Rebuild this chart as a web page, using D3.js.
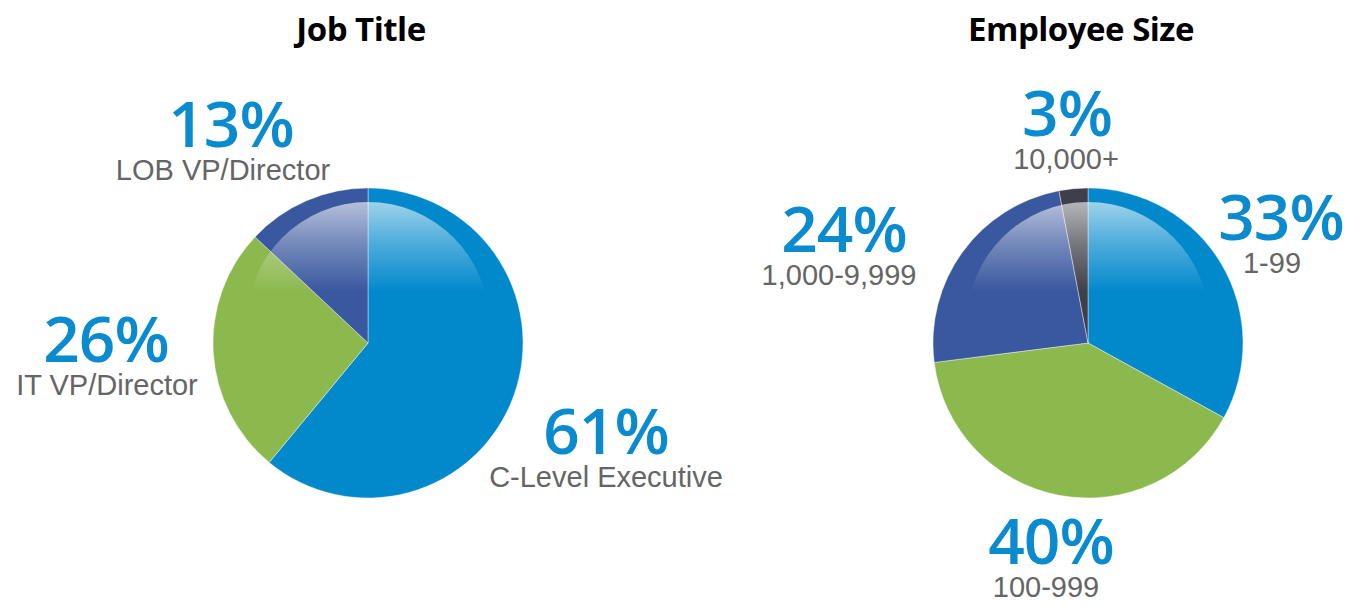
<!DOCTYPE html>
<html>
<head>
<meta charset="utf-8">
<script src="https://cdn.jsdelivr.net/npm/d3@7"></script>
<style>
  body { margin: 0; background: #fff; }
  svg { display: block; }
</style>
</head>
<body>
<svg id="chart"></svg>
<script>
// job title split
const jobTitles = ['C-Level Executive', 'IT VP/Director', 'LOB VP/Director'];
const jobValues = [61, 26, 13];

// employee size split
const sizeLabels = ['1-99', '100-999', '1,000-9,999', '10,000+'];
const sizeValues = [33, 40, 24, 3];

const jobColors = ['#0289cc', '#8cb94e', '#3a589f'];
const sizeColors = ['#0289cc', '#8cb94e', '#3a589f', '#3e3f49'];

// where each label sits, relative to its pie centre: pct centre x, baseline y, caption x nudge
const jobLabelPos = [[238, 111, 0], [-262, 19, 1], [-137, -196, -8]];
const sizeLabelPos = [[193, -103, -9], [-37, 221, -5], [-244, -91, -5], [-21, -207, -1]];

const W = 1351, H = 607;
const R = 155;

const svg = d3.select('#chart')
              .attr('width', W)
              .attr('height', H);

const defs = svg.append('defs');
const gloss = defs.append('linearGradient')
                  .attr('id', 'gloss')
                  .attr('x1', 0).attr('y1', 0)
                  .attr('x2', 0).attr('y2', 1);
gloss.append('stop').attr('offset', 0).attr('stop-color', '#fff').attr('stop-opacity', 0.62);
gloss.append('stop').attr('offset', 0.17).attr('stop-color', '#fff').attr('stop-opacity', 0.3);
gloss.append('stop').attr('offset', 0.37).attr('stop-color', '#fff').attr('stop-opacity', 0);

function drawPie(id, cx, cy, title, names, values, colors, labelPos)
{
  const g = svg.append('g')
               .attr('transform', `translate(${cx},${cy})`);

  defs.append('clipPath')
      .attr('id', `clip-${id}`)
      .append('circle')
      .attr('r', R);

  const pie = d3.pie().sort(null).value(d => d);
  const arc = d3.arc().innerRadius(0).outerRadius(R);
  const arcs = pie(values);

  g.selectAll('path.slice')
   .data(arcs)
   .enter()
   .append('path')
   .attr('class', 'slice')
   .attr('d', arc)
   .attr('fill', (d, i) => colors[i])
   .attr('stroke', '#fff')
   .attr('stroke-opacity', 0.5)
   .attr('stroke-width', 0.8);

  // glossy highlight over the top half
  g.append('circle')
   .attr('cx', 0)
   .attr('cy', -20)
   .attr('r', 121)
   .attr('fill', 'url(#gloss)')
   .attr('clip-path', `url(#clip-${id})`);

  svg.append('text')
     .attr('x', cx - 7)
     .attr('y', 41)
     .attr('text-anchor', 'middle')
     .attr('font-family', 'Open Sans, sans-serif')
     .attr('font-weight', 700)
     .attr('font-size', 33)
     .attr('letter-spacing', -0.5)
     .attr('fill', '#000')
     .text(title);

  const labels = g.selectAll('g.label')
                  .data(arcs)
                  .enter()
                  .append('g')
                  .attr('class', 'label')
                  .attr('transform', (d, i) => `translate(${labelPos[i][0]},${labelPos[i][1]})`);

  labels.append('text')
        .attr('text-anchor', 'middle')
        .attr('font-family', 'Open Sans, sans-serif')
        .attr('font-weight', 600)
        .attr('font-size', 64)
        .attr('letter-spacing', -1)
        .attr('fill', '#0a8acf')
        .text(d => d.data + '%');

  labels.append('text')
        .attr('x', (d, i) => labelPos[i][2])
        .attr('y', 33)
        .attr('text-anchor', 'middle')
        .attr('font-family', 'Liberation Sans, Arial, sans-serif')
        .attr('font-size', 29)
        .attr('fill', '#656565')
        .text((d, i) => names[i]);
}

drawPie('job', 368, 343, 'Job Title', jobTitles, jobValues, jobColors, jobLabelPos);
drawPie('size', 1088, 343, 'Employee Size', sizeLabels, sizeValues, sizeColors, sizeLabelPos);
</script>
</body>
</html>
